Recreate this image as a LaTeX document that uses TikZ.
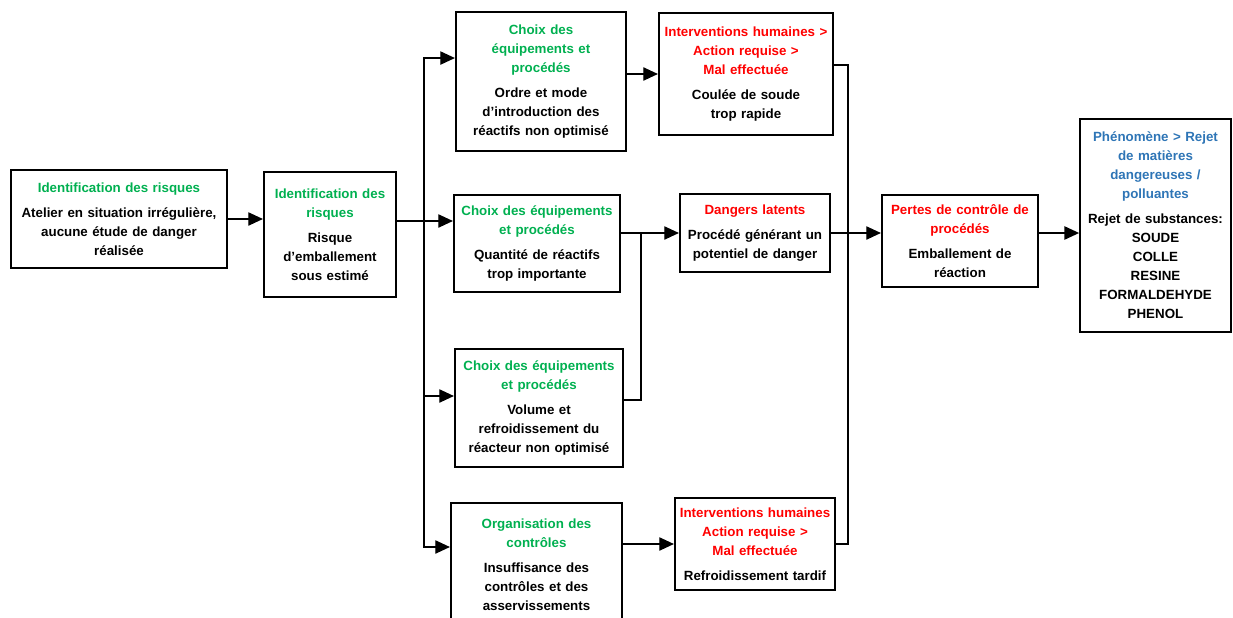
\documentclass[tikz,border=0pt]{standalone}
\usepackage{fontspec}
\setmainfont{Liberation Sans}
\usetikzlibrary{arrows.meta}
\definecolor{vert}{RGB}{0,176,80}
\definecolor{rouge}{RGB}{255,0,0}
\definecolor{bleu}{RGB}{46,117,182}
\tikzset{
  box/.style={draw, line width=1.6pt, align=center, inner xsep=0pt, inner ysep=2pt,
    font=\bfseries\fontsize{10}{14.25}\selectfont},
  fleche/.style={-{Triangle[length=11pt,width=10pt]}},
}
\begin{document}
\begin{tikzpicture}[x=0.75pt, y=-0.75pt, line width=1pt]
    % Cadre de l'image
    \useasboundingbox (0,0) rectangle (1233,618);
    \clip (0,0) rectangle (1233,618);

    % 1. Identification des risques
    \node[box, text width=162pt, minimum height=73.5pt] (ident1) at (119,219)
        {\color{vert}Identification des risques\\[4.5pt]
         \color{black}Atelier en situation irrégulière,\\ aucune étude de danger\\ réalisée};
    \node[box, text width=99pt, minimum height=93.75pt] (ident2) at (330,234.5)
        {\color{vert}Identification des\\ risques\\[4.5pt]
         \color{black}Risque\\ d’emballement\\ sous estimé};

    % 2. Choix des équipements / organisation
    \node[box, text width=127.5pt, minimum height=104.25pt] (choix1) at (541,81.5)
        {\color{vert}Choix des\\ équipements et\\ procédés\\[4.5pt]
         \color{black}Ordre et mode\\ d’introduction des\\ réactifs non optimisé};
    \node[box, text width=124.5pt, minimum height=72.75pt] (choix2) at (537,243.5)
        {\color{vert}Choix des équipements\\ et procédés\\[4.5pt]
         \color{black}Quantité de réactifs\\ trop importante};
    \node[box, text width=126pt, minimum height=88.5pt] (choix3) at (539,408)
        {\color{vert}Choix des équipements\\ et procédés\\[4.5pt]
         \color{black}Volume et\\ refroidissement du\\ réacteur non optimisé};
    \node[box, text width=128.25pt, minimum height=93pt] (choix4) at (536.5,565)
        {\color{vert}Organisation des\\ contrôles\\[4.5pt]
         \color{black}Insuffisance des\\ contrôles et des\\ asservissements\\[12pt]};

    % 3. Interventions humaines et dangers latents
    \node[box, text width=130.5pt, minimum height=91.5pt] (interv1) at (746,74)
        {\color{rouge}Interventions humaines >\\ Action requise >\\ Mal effectuée\\[4.5pt]
         \color{black}Coulée de soude\\ trop rapide};
    \node[box, text width=112.5pt, minimum height=58.5pt] (danger) at (755,233)
        {\color{rouge}Dangers latents\\[4.5pt]
         \color{black}Procédé générant un\\ potentiel de danger};
    \node[box, text width=120pt, minimum height=69pt] (interv2) at (755,544)
        {\color{rouge}Interventions humaines\\ Action requise >\\ Mal effectuée\\[4.5pt]
         \color{black}Refroidissement tardif};

    % 4. Perte de contrôle et phénomène
    \node[box, text width=117pt, minimum height=69pt] (pertes) at (960,241)
        {\color{rouge}Pertes de contrôle de\\ procédés\\[4.5pt]
         \color{black}Emballement de\\ réaction};
    \node[box, text width=113pt, minimum height=159.75pt] (phenom) at (1155.5,225.5)
        {\color{bleu}Phénomène > Rejet\\ de matières\\ dangereuses /\\ polluantes\\[4.5pt]
         \color{black}Rejet de substances:\\ SOUDE\\ COLLE\\ RESINE\\ FORMALDEHYDE\\ PHENOL};

    % 5. Liaisons
    \coordinate (j1) at (424,221);
    \coordinate (j2) at (641,233);
    \coordinate (j3) at (848,233);

    \draw[fleche] (ident1.east) -- (ident1.east -| ident2.west);
    \draw (ident2.east |- j1) -- (j1);
    \draw[fleche] (j1) |- ([yshift=17.6pt]choix1.west);
    \draw[fleche] (j1) -- (j1 -| choix2.west);
    \draw[fleche] (j1) |- ([yshift=9pt]choix3.west);
    \draw[fleche] (j1) |- ([yshift=13.5pt]choix4.west);

    \draw[fleche] (choix1.east |- interv1.west) -- (interv1.west);
    \draw[fleche] (choix2.east |- danger.west) -- (danger.west);
    \draw ([yshift=6pt]choix3.east) -| (j2);
    \draw[fleche] (choix4.east |- interv2.west) -- (interv2.west);

    \draw ([yshift=6.75pt]interv1.east) -| (j3);
    \draw (interv2.east) -| (j3);
    \draw[fleche] (danger.east) -- (danger.east -| pertes.west);
    \draw[fleche] (pertes.east |- danger.east) -- (danger.east -| phenom.west);

\end{tikzpicture}
\end{document}
